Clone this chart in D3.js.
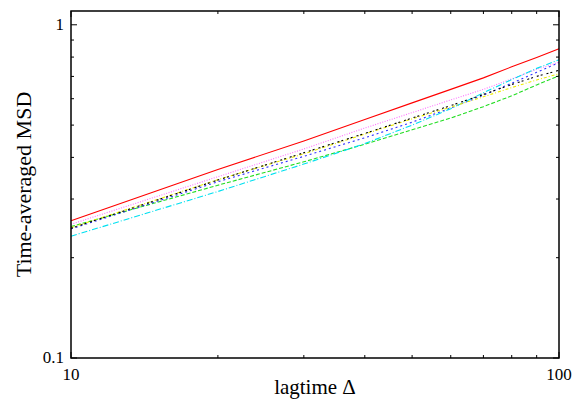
<!DOCTYPE html>
<html>
<head>
<meta charset="utf-8">
<script src="https://cdn.jsdelivr.net/npm/d3@7"></script>
<style>
  body { margin: 0; background: #fff; }
  svg { display: block; }
</style>
</head>
<body>
<svg id="chart" width="573" height="401"></svg>
<script>
var lagtimes = [10, 20, 30, 40, 50, 60, 70, 80, 90, 100];

var msdRed     = [0.258, 0.368, 0.448, 0.520, 0.583, 0.640, 0.693, 0.748, 0.798, 0.848];
var msdGreen   = [0.248, 0.330, 0.388, 0.438, 0.484, 0.525, 0.568, 0.612, 0.660, 0.703];
var msdBlue    = [0.244, 0.338, 0.403, 0.458, 0.510, 0.563, 0.615, 0.668, 0.720, 0.770];
var msdMagenta = [0.252, 0.350, 0.424, 0.490, 0.545, 0.595, 0.640, 0.688, 0.735, 0.772];
var msdCyan    = [0.232, 0.316, 0.382, 0.440, 0.500, 0.560, 0.625, 0.685, 0.740, 0.785];
var msdYellow  = [0.246, 0.343, 0.410, 0.470, 0.522, 0.566, 0.608, 0.648, 0.683, 0.713];
var msdBlack   = [0.245, 0.342, 0.413, 0.472, 0.525, 0.572, 0.618, 0.662, 0.700, 0.730];

var xMajor = [10, 100];
var xMinor = [20, 30, 40, 50, 60, 70, 80, 90];
var yMajor = [0.1, 1];
var yMinor = [0.2, 0.3, 0.4, 0.5, 0.6, 0.7, 0.8, 0.9];

var series = [
    {values: msdRed,     color: "#ff0000", dash: null},
    {values: msdGreen,   color: "#22dd22", dash: "4,2"},
    {values: msdBlue,    color: "#3030ff", dash: "2,3"},
    {values: msdMagenta, color: "#ff70ff", dash: "1,1.5"},
    {values: msdCyan,    color: "#00e0f0", dash: "6,2,1,2"},
    {values: msdYellow,  color: "#eeee00", dash: "3,2,1,2"},
    {values: msdBlack,   color: "#000000", dash: "2,2,2,4"}
];

var svg = d3.select("#chart"),
    margin = {top: 11, left: 71, right: 14, bottom: 43},
    width = 573 - margin.left - margin.right,
    height = 401 - margin.top - margin.bottom;

var xScale = d3.scaleLog().domain([10, 100]).range([0, width]),
    yScale = d3.scaleLog().domain([0.1, 1.1]).range([height, 0]);

var g = svg.append("g")
    .attr("transform", "translate(" + margin.left + "," + margin.top + ")");

// tick marks on all four sides, pointing inward
function tickMarks(vals, len) {
    vals.forEach(function(v) {
        var x = xScale(v);
        g.append("line").attr("x1", x).attr("x2", x).attr("y1", height).attr("y2", height - len);
        g.append("line").attr("x1", x).attr("x2", x).attr("y1", 0).attr("y2", len);
    });
}
function tickMarksY(vals, len) {
    vals.forEach(function(v) {
        var y = yScale(v);
        g.append("line").attr("x1", 0).attr("x2", len).attr("y1", y).attr("y2", y);
        g.append("line").attr("x1", width).attr("x2", width - len).attr("y1", y).attr("y2", y);
    });
}
tickMarks(xMajor, 6);
tickMarks(xMinor, 3);
tickMarksY(yMajor, 6);
tickMarksY(yMinor, 3);
g.selectAll("line").attr("stroke", "#000").attr("stroke-width", 1);

var line = d3.line()
    .x(function(d) { return xScale(d[0]); })
    .y(function(d) { return yScale(d[1]); });

series.forEach(function(s) {
    g.append("path")
        .datum(lagtimes.map(function(t, i) { return [t, s.values[i]]; }))
        .attr("fill", "none")
        .attr("stroke", s.color)
        .attr("stroke-width", 1.1)
        .attr("stroke-dasharray", s.dash)
        .attr("d", line);
});

g.append("rect")
    .attr("width", width)
    .attr("height", height)
    .attr("fill", "none")
    .attr("stroke", "#000")
    .attr("stroke-width", 1.5);

var font = "'Liberation Serif', 'Times New Roman', serif";

g.selectAll(".xlab")
    .data(xMajor)
    .enter().append("text")
    .attr("x", function(d) { return xScale(d); })
    .attr("y", height + 22)
    .attr("text-anchor", "middle")
    .attr("font-family", font)
    .attr("font-size", 17)
    .text(function(d) { return d; });

g.selectAll(".ylab")
    .data(yMajor)
    .enter().append("text")
    .attr("x", -7)
    .attr("y", function(d) { return yScale(d) + 5; })
    .attr("text-anchor", "end")
    .attr("font-family", font)
    .attr("font-size", 17)
    .text(function(d) { return d; });

svg.append("text")
    .attr("x", margin.left + width / 2)
    .attr("y", 394)
    .attr("text-anchor", "middle")
    .attr("font-family", font)
    .attr("font-size", 21)
    .text("lagtime \u0394");

svg.append("text")
    .attr("transform", "translate(31," + (margin.top + height / 2) + ") rotate(-90)")
    .attr("text-anchor", "middle")
    .attr("font-family", font)
    .attr("font-size", 22)
    .text("Time-averaged MSD");
</script>
</body>
</html>
